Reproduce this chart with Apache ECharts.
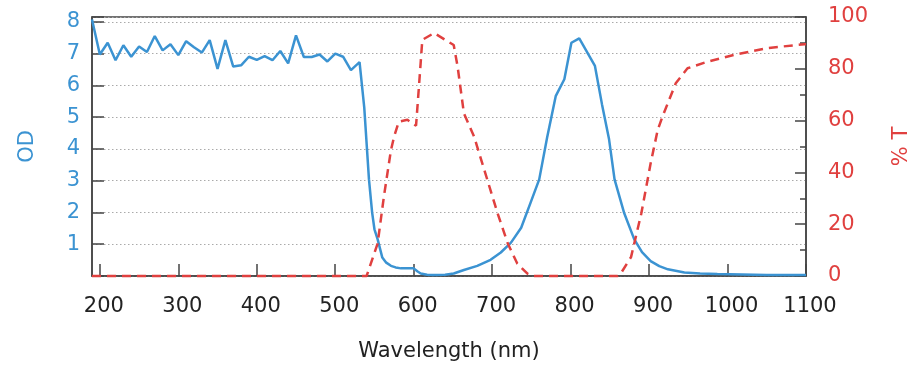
<!DOCTYPE html>
<html><head><meta charset="utf-8">
<script src="https://cdn.jsdelivr.net/npm/echarts@6/dist/echarts.min.js"></script>
<style>html,body{margin:0;padding:0;background:#fff}#c{width:922px;height:372px}</style>
</head><body><div id="c"></div>
<script>
// Optical density (left axis)
const odWavelength = [190,200,210,220,230,240,250,260,270,280,290,300,310,320,330,340,350,360,370,380,390,400,410,420,430,440,450,460,470,480,490,500,510,520,531,537,543,547,550,554,560,565,571,577,584,600,605,609,617,625,640,651,664,681,698,711,724,737,749,760,770,781,792,801,811,831,840,849,856,868,881,891,902,913,924,945,965,987,1050,1100];
const odValues = [8.07,6.97,7.34,6.79,7.26,6.90,7.22,7.05,7.55,7.10,7.29,6.95,7.39,7.20,7.03,7.42,6.52,7.42,6.59,6.63,6.90,6.80,6.92,6.79,7.08,6.69,7.57,6.89,6.89,6.97,6.75,7.00,6.90,6.48,6.73,5.30,3.04,2.00,1.47,1.16,0.58,0.42,0.32,0.27,0.24,0.24,0.14,0.08,0.04,0.03,0.04,0.08,0.19,0.32,0.51,0.74,1.05,1.52,2.31,3.04,4.35,5.66,6.19,7.34,7.48,6.61,5.40,4.30,3.04,2.00,1.16,0.75,0.47,0.31,0.21,0.11,0.08,0.06,0.03,0.03];
// Transmission % (right axis)
const tWavelength = [190,540,554,562,571,575,581,592,603,607,611,626,651,656,664,677,694,707,720,732,745,753,860,864,877,890,902,911,917,934,949,975,1009,1051,1098,1100];
const tValues = [0,0,12.5,30.6,48.6,53.8,59.6,60.3,58.0,74.4,91.2,93.8,89.2,80.8,62.8,53.8,37.0,24.1,12.5,4.8,0.9,0,0,1.0,7.3,24.0,43.5,56.4,61.5,74.4,80.2,82.8,85.4,88.0,89.5,89.5];
const xTicks = [200,300,400,500,600,700,800,900,1000,1100];

const BLUE = '#3b93d2';
const RED = '#e0403f';
const AXIS = '#444';
const FONT = 'DejaVu Sans';

const odData = odWavelength.map((w, i) => [w, odValues[i]]);
const tData = tWavelength.map((w, i) => [w, tValues[i]]);

const chart = echarts.init(document.getElementById('c'));
chart.setOption({
  animation: false,
  grid: {left: 92, right: 116, top: 17, bottom: 96, show: true, borderColor: AXIS, borderWidth: 1.5, backgroundColor: 'transparent'},
  xAxis: {
    type: 'value', min: 190, max: 1100,
    name: 'Wavelength (nm)', nameLocation: 'middle', nameGap: 65,
    nameTextStyle: {fontFamily: FONT, fontSize: 21, color: '#222'},
    axisLine: {show: true, onZero: false, lineStyle: {color: AXIS, width: 1.5}},
    axisTick: {show: true, inside: true, length: 12, customValues: xTicks, lineStyle: {color: AXIS, width: 1.5}},
    axisLabel: {customValues: xTicks, fontFamily: FONT, fontSize: 21, color: '#222', margin: 20, padding: [0, 0, 0, 8],
      formatter: v => String(v)},
    splitLine: {show: false}
  },
  yAxis: [{
    type: 'value', position: 'left', min: 0, max: 8.15, interval: 1,
    name: 'OD', nameLocation: 'middle', nameRotate: 90, nameGap: 54,
    nameTextStyle: {fontFamily: FONT, fontSize: 21, color: BLUE},
    axisLine: {show: true, lineStyle: {color: AXIS, width: 1.5}},
    axisTick: {show: true, inside: true, length: 12, lineStyle: {color: AXIS, width: 1.5}},
    axisLabel: {fontFamily: FONT, fontSize: 21, color: BLUE, margin: 12,
      formatter: v => (v >= 1 && Math.abs(v - Math.round(v)) < 1e-6) ? String(Math.round(v)) : ''},
    splitLine: {show: true, lineStyle: {color: '#aaa', type: [1.5, 2.5], width: 1}}
  }, {
    type: 'value', position: 'right', min: 0, max: 100, interval: 20,
    name: '% T', nameLocation: 'middle', nameRotate: 90, nameGap: 85,
    nameTextStyle: {fontFamily: FONT, fontSize: 21, color: RED},
    axisLine: {show: true, lineStyle: {color: AXIS, width: 1.5}},
    axisTick: {show: true, inside: true, length: 11, lineStyle: {color: AXIS, width: 1.5}},
    minorTick: {show: true, splitNumber: 2, length: 6, lineStyle: {color: AXIS, width: 1.5}},
    axisLabel: {fontFamily: FONT, fontSize: 21, color: RED, margin: 22},
    splitLine: {show: false}
  }],
  series: [{
    type: 'line', yAxisIndex: 0, data: odData, symbol: 'none', clip: false,
    lineStyle: {color: BLUE, width: 2.5}
  }, {
    type: 'line', yAxisIndex: 1, data: tData, symbol: 'none', clip: false,
    lineStyle: {color: RED, width: 2.5, type: [9, 6]}
  }]
});
</script>
</body></html>
